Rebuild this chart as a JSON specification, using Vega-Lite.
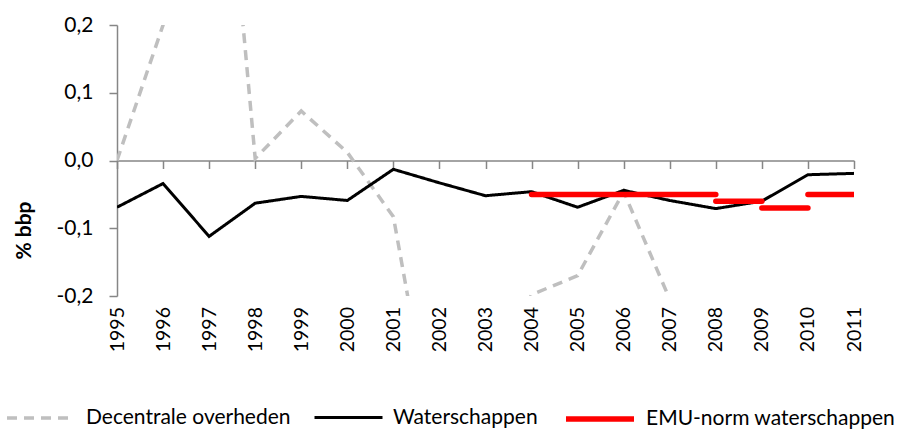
{
  "$schema": "https://vega.github.io/schema/vega-lite/v6.json",
  "width": 737,
  "height": 271,
  "autosize": "none",
  "padding": {"left": 117, "top": 25, "right": 50, "bottom": 136},
  "background": "white",
  "config": {
    "view": {"stroke": null},
    "font": "Lato",
    "locale": {"number": {"decimal": ",", "thousands": ".", "grouping": [3], "currency": ["€", ""], "minus": "-"}}
  },
  "data": {
    "values": [
      {"series": "Decentrale overheden", "year": 1995, "value": 0.0, "seg": "d"},
      {"series": "Decentrale overheden", "year": 1996, "value": 0.2, "seg": "d"},
      {"series": "Decentrale overheden", "year": 1997, "value": 0.75, "seg": "d"},
      {"series": "Decentrale overheden", "year": 1998, "value": 0.003, "seg": "d"},
      {"series": "Decentrale overheden", "year": 1999, "value": 0.073, "seg": "d"},
      {"series": "Decentrale overheden", "year": 2000, "value": 0.012, "seg": "d"},
      {"series": "Decentrale overheden", "year": 2001, "value": -0.083, "seg": "d"},
      {"series": "Decentrale overheden", "year": 2002, "value": -0.46, "seg": "d"},
      {"series": "Decentrale overheden", "year": 2003, "value": -0.35, "seg": "d"},
      {"series": "Decentrale overheden", "year": 2004, "value": -0.198, "seg": "d"},
      {"series": "Decentrale overheden", "year": 2005, "value": -0.17, "seg": "d"},
      {"series": "Decentrale overheden", "year": 2006, "value": -0.046, "seg": "d"},
      {"series": "Decentrale overheden", "year": 2007, "value": -0.205, "seg": "d"},
      {"series": "Waterschappen", "year": 1995, "value": -0.069, "seg": "w"},
      {"series": "Waterschappen", "year": 1996, "value": -0.034, "seg": "w"},
      {"series": "Waterschappen", "year": 1997, "value": -0.112, "seg": "w"},
      {"series": "Waterschappen", "year": 1998, "value": -0.063, "seg": "w"},
      {"series": "Waterschappen", "year": 1999, "value": -0.053, "seg": "w"},
      {"series": "Waterschappen", "year": 2000, "value": -0.059, "seg": "w"},
      {"series": "Waterschappen", "year": 2001, "value": -0.013, "seg": "w"},
      {"series": "Waterschappen", "year": 2002, "value": -0.033, "seg": "w"},
      {"series": "Waterschappen", "year": 2003, "value": -0.052, "seg": "w"},
      {"series": "Waterschappen", "year": 2004, "value": -0.046, "seg": "w"},
      {"series": "Waterschappen", "year": 2005, "value": -0.069, "seg": "w"},
      {"series": "Waterschappen", "year": 2006, "value": -0.044, "seg": "w"},
      {"series": "Waterschappen", "year": 2007, "value": -0.059, "seg": "w"},
      {"series": "Waterschappen", "year": 2008, "value": -0.071, "seg": "w"},
      {"series": "Waterschappen", "year": 2009, "value": -0.06, "seg": "w"},
      {"series": "Waterschappen", "year": 2010, "value": -0.021, "seg": "w"},
      {"series": "Waterschappen", "year": 2011, "value": -0.019, "seg": "w"},
      {"series": "EMU-norm waterschappen", "year": 2004, "value": -0.05, "seg": "e1"},
      {"series": "EMU-norm waterschappen", "year": 2008, "value": -0.05, "seg": "e1"},
      {"series": "EMU-norm waterschappen", "year": 2008, "value": -0.06, "seg": "e2"},
      {"series": "EMU-norm waterschappen", "year": 2009, "value": -0.06, "seg": "e2"},
      {"series": "EMU-norm waterschappen", "year": 2009, "value": -0.07, "seg": "e3"},
      {"series": "EMU-norm waterschappen", "year": 2010, "value": -0.07, "seg": "e3"},
      {"series": "EMU-norm waterschappen", "year": 2010, "value": -0.05, "seg": "e4"},
      {"series": "EMU-norm waterschappen", "year": 2011, "value": -0.05, "seg": "e4"}
    ]
  },
  "encoding": {
    "x": {
      "field": "year", "type": "quantitative",
      "scale": {"domain": [1995, 2011], "nice": false, "zero": false},
      "axis": {
        "title": null, "values": [1995,1996,1997,1998,1999,2000,2001,2002,2003,2004,2005,2006,2007,2008,2009,2010,2011],
        "format": "d", "grid": false, "offset": -135.5,
        "domainColor": "#868686", "domainWidth": 1.5, "tickColor": "#868686", "tickWidth": 1.5, "tickSize": 8,
        "labelAngle": -90, "labelAlign": "right", "labelBaseline": "middle",
        "labelPadding": 138, "labelFontSize": 19.5, "labelColor": "#000000", "labelFlush": false, "labelOverlap": false
      }
    },
    "y": {
      "field": "value", "type": "quantitative",
      "scale": {"domain": [-0.2, 0.2], "nice": false, "zero": false},
      "axis": {
        "title": "% bbp", "titleFontSize": 21, "titleFontWeight": "bold", "titleColor": "#000000",
        "titleX": -93, "titleY": 205, "titleAngle": -90, "titleAlign": "center", "titleBaseline": "middle",
        "values": [-0.2, -0.1, 0, 0.1, 0.2], "format": ".1f", "grid": false,
        "domainColor": "#868686", "domainWidth": 1.5, "tickColor": "#868686", "tickWidth": 1.5, "tickSize": 8,
        "labelPadding": 16, "labelFontSize": 21, "labelColor": "#000000"
      }
    },
    "color": {
      "field": "series", "type": "nominal",
      "scale": {"domain": ["Decentrale overheden", "Waterschappen", "EMU-norm waterschappen"], "range": ["#BFBFBF", "#000000", "#FF0000"]},
      "legend": {
        "title": null, "orient": "none", "direction": "horizontal", "legendX": -112, "legendY": 357,
        "symbolType": "stroke", "symbolSize": 4624, "labelFontSize": 21, "labelColor": "#000000",
        "labelOffset": 9, "columnPadding": 17, "labelLimit": 0, "gridAlign": "none"
      }
    },
    "strokeDash": {
      "field": "series", "type": "nominal",
      "scale": {"domain": ["Decentrale overheden", "Waterschappen", "EMU-norm waterschappen"], "range": [[10, 7], [1, 0], [1, 0]]},
      "legend": null
    },
    "strokeWidth": {
      "field": "series", "type": "nominal",
      "scale": {"type": "ordinal", "domain": ["Decentrale overheden", "Waterschappen", "EMU-norm waterschappen"], "range": [3.5, 3, 5.5]},
      "legend": null
    },
    "detail": {"field": "seg", "type": "nominal"}
  },
  "layer": [
    {"transform": [{"filter": "datum.series === 'Decentrale overheden'"}], "mark": {"type": "line", "clip": true}},
    {"transform": [{"filter": "datum.series === 'Waterschappen'"}], "mark": {"type": "line", "clip": true}},
    {"transform": [{"filter": "datum.series === 'EMU-norm waterschappen'"}], "mark": {"type": "line", "clip": true, "strokeCap": "round"}}
  ]
}
